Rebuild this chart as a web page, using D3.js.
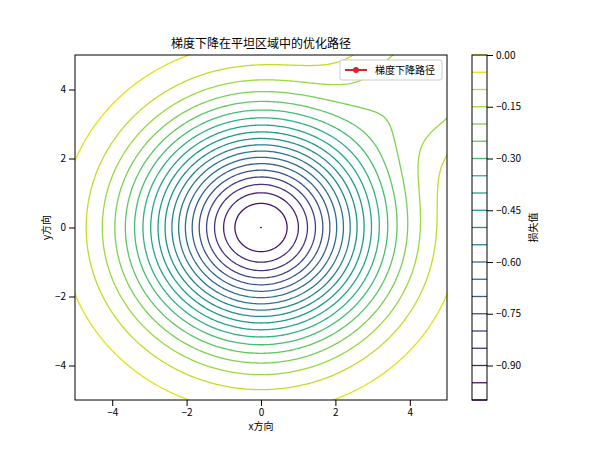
<!DOCTYPE html>
<html>
<script src='https://d3js.org/d3.v7.min.js'></script>
<style>
 body {margin:0; background:white;}
 text {font-family:'Noto Sans CJK SC', 'DejaVu Sans', sans-serif;}
</style>
<body>
<svg width=600 height=450></svg>
<script>

// surface model: gaussian wells
var wellX = [0, 4.6];
var wellY = [0, 4.4];
var wellDepth = [1.0, 0.18];
var wellSigma = [2.19, 1.5];
var levels = d3.range(21).map(function(i) { return -1 + i * 0.05; });
var cbTicks = [0, -0.15, -0.30, -0.45, -0.60, -0.75, -0.90];
var axisTicks = [-4, -2, 0, 2, 4];

var L = 75, R = 447, T = 55, B = 400;
var svg = d3.select('svg');
var x = d3.scaleLinear().domain([-5, 5]).range([L, R]);
var y = d3.scaleLinear().domain([-5, 5]).range([B, T]);
var color = d3.scaleSequential(d3.interpolateViridis).domain([-1, 0]);

var n = 201;
var grid = [];
for (var j = 0; j < n; j++) for (var i = 0; i < n; i++) {
  var px = -5 + 10 * i / (n - 1), py = -5 + 10 * j / (n - 1), v = 0;
  for (var k = 0; k < wellX.length; k++) {
    var d2 = (px - wellX[k]) ** 2 + (py - wellY[k]) ** 2;
    v -= wellDepth[k] * Math.exp(-d2 / (2 * wellSigma[k] ** 2));
  }
  grid.push(v);
}
var cs = d3.contours().size([n, n]).smooth(true).thresholds(levels)(grid);

svg.append('clipPath').attr('id', 'c').append('rect')
  .attr('x', L).attr('y', T).attr('width', R - L).attr('height', B - T);

var proj = d3.geoTransform({point: function(gx, gy) {
  this.stream.point(x(-5 + 10 * (gx - 0.5) / (n - 1)), y(-5 + 10 * (gy - 0.5) / (n - 1)));
}});
var path = d3.geoPath(proj);
svg.append('g').attr('clip-path', 'url(#c)').selectAll('path')
  .data(cs).enter().append('path')
  .attr('d', path)
  .attr('fill', 'none')
  .attr('stroke', function(d) { return color(d.value); })
  .attr('stroke-width', 1.3);

svg.append('rect').attr('x', L).attr('y', T).attr('width', R - L).attr('height', B - T)
  .attr('fill', 'none').attr('stroke', 'black');

svg.append('g').attr('transform', 'translate(0,' + B + ')')
  .call(d3.axisBottom(x).tickValues(axisTicks).tickSizeOuter(0))
  .call(function(g) { g.select('.domain').remove(); g.selectAll('text').attr('font-size', 10); });
svg.append('g').attr('transform', 'translate(' + L + ',0)')
  .call(d3.axisLeft(y).tickValues(axisTicks).tickSizeOuter(0))
  .call(function(g) { g.select('.domain').remove(); g.selectAll('text').attr('font-size', 10); });

svg.append('text').attr('x', (L + R) / 2).attr('y', 430).attr('text-anchor', 'middle')
  .attr('font-size', 10).text('x方向');
svg.append('text').attr('transform', 'translate(50,' + (T + B) / 2 + ') rotate(-90)')
  .attr('text-anchor', 'middle').attr('font-size', 10).text('y方向');
svg.append('text').attr('x', (L + R) / 2).attr('y', 48).attr('text-anchor', 'middle')
  .attr('font-size', 12).text('梯度下降在平坦区域中的优化路径');

// legend
var lg = svg.append('g');
lg.append('rect').attr('x', 340).attr('y', 60).attr('width', 102).attr('height', 20)
  .attr('fill', 'white').attr('stroke', '#ccc').attr('rx', 2);
lg.append('line').attr('x1', 345).attr('x2', 367).attr('y1', 70).attr('y2', 70)
  .attr('stroke', '#d62728').attr('stroke-width', 2);
lg.append('circle').attr('cx', 356).attr('cy', 70).attr('r', 3).attr('fill', '#d62728');
lg.append('text').attr('x', 375).attr('y', 74).attr('font-size', 10).text('梯度下降路径');

// colorbar
var cy = d3.scaleLinear().domain([-1, 0]).range([B, T]);
var cb = svg.append('g');
cb.selectAll('line').data(levels).enter().append('line')
  .attr('x1', 472).attr('x2', 487)
  .attr('y1', function(d) { return cy(d); }).attr('y2', function(d) { return cy(d); })
  .attr('stroke', function(d) { return color(d); }).attr('stroke-width', 1.3);
cb.append('rect').attr('x', 472).attr('y', T).attr('width', 15).attr('height', B - T)
  .attr('fill', 'none').attr('stroke', 'black');
svg.append('g').attr('transform', 'translate(487,0)')
  .call(d3.axisRight(cy).tickValues(cbTicks).tickFormat(d3.format('.2f')).tickSizeOuter(0))
  .call(function(g) { g.select('.domain').remove(); g.selectAll('text').attr('font-size', 10); });
svg.append('text').attr('transform', 'translate(537,' + (T + B) / 2 + ') rotate(-90)')
  .attr('text-anchor', 'middle').attr('font-size', 10).text('损失值');

</script>
</body>
</html>
